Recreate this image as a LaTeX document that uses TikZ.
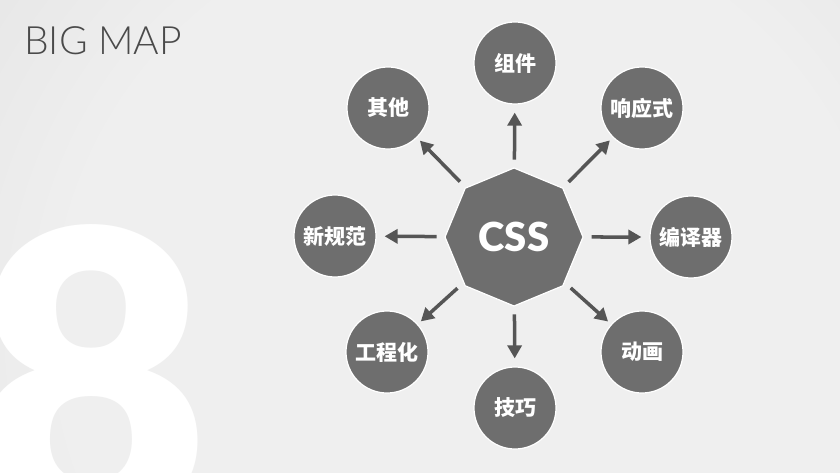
\documentclass[tikz,border=0pt]{standalone}
\usepackage{fontspec}
\usetikzlibrary{shapes.geometric,arrows.meta}
\newfontfamily\cjk{Noto Sans CJK SC}
\newfontfamily\heavyfont{Lato Black}
\newfontfamily\titlefont{Lato Light}
\definecolor{nodegray}{HTML}{6E6E6E}
\definecolor{arrowgray}{HTML}{555555}
\definecolor{titlegray}{HTML}{4A4A4A}
\definecolor{bglight}{HTML}{EFEFEF}
\definecolor{bgdark}{HTML}{CFCFCF}
\pgfdeclareradialshading{bgshade}{\pgfpoint{0bp}{0bp}}{color(0bp)=(bglight); color(17bp)=(bglight); color(48bp)=(bgdark); color(50bp)=(bgdark)}
\begin{document}
\begin{tikzpicture}[x=1pt,y=-1pt,
  topic/.style={circle,fill=nodegray,draw=white,line width=1.2pt,minimum size=82pt,inner sep=0pt,text=white,font=\cjk\bfseries\fontsize{21}{21}\selectfont},
  hub/.style={regular polygon,regular polygon sides=8,shape border rotate=22.5,minimum size=138pt,inner sep=0pt,fill=nodegray,draw=white,line width=1.2pt,text=white,font=\heavyfont\fontsize{40}{40}\selectfont},
  link/.style={draw=arrowgray,line width=3.5pt,-{Triangle[length=13pt,width=14pt]},shorten <=8pt,shorten >=8pt},
  diaglink/.style={link,shorten >=4pt}]
\useasboundingbox (0,0) rectangle (840,473);
\begin{scope}
  \clip (0,0) rectangle (840,473);
  \shade[shading=bgshade] (470,330) circle (600pt);
  \node[anchor=base,inner sep=0pt,text=white,font=\heavyfont\fontsize{410}{410}\selectfont] (eight) at (91,526) {8};
\end{scope}
\node[anchor=base west,inner sep=0pt,text=titlegray,font=\titlefont\fontsize{39}{39}\selectfont] (title) at (24,55) {BIG MAP};

\node[hub] (css) at (514,237) {CSS};
\node[topic] (zujian) at (515,63) {组件};
\node[topic] (xiangying) at (642,108) {响应式};
\node[topic] (bianyi) at (691,237) {编译器};
\node[topic] (donghua) at (642,352) {动画};
\node[topic] (jiqiao) at (515,408) {技巧};
\node[topic] (gongcheng) at (387,352) {工程化};
\node[topic] (xinguifan) at (335,236) {新规范};
\node[topic] (qita) at (388,108) {其他};

\draw[link] (css) -- (zujian);
\draw[diaglink] (css) -- (xiangying);
\draw[link] (css) -- (bianyi);
\draw[diaglink] (css) -- (donghua);
\draw[link] (css) -- (jiqiao);
\draw[diaglink] (css) -- (gongcheng);
\draw[link] (css) -- (xinguifan);
\draw[diaglink] (css) -- (qita);
\end{tikzpicture}
\end{document}
